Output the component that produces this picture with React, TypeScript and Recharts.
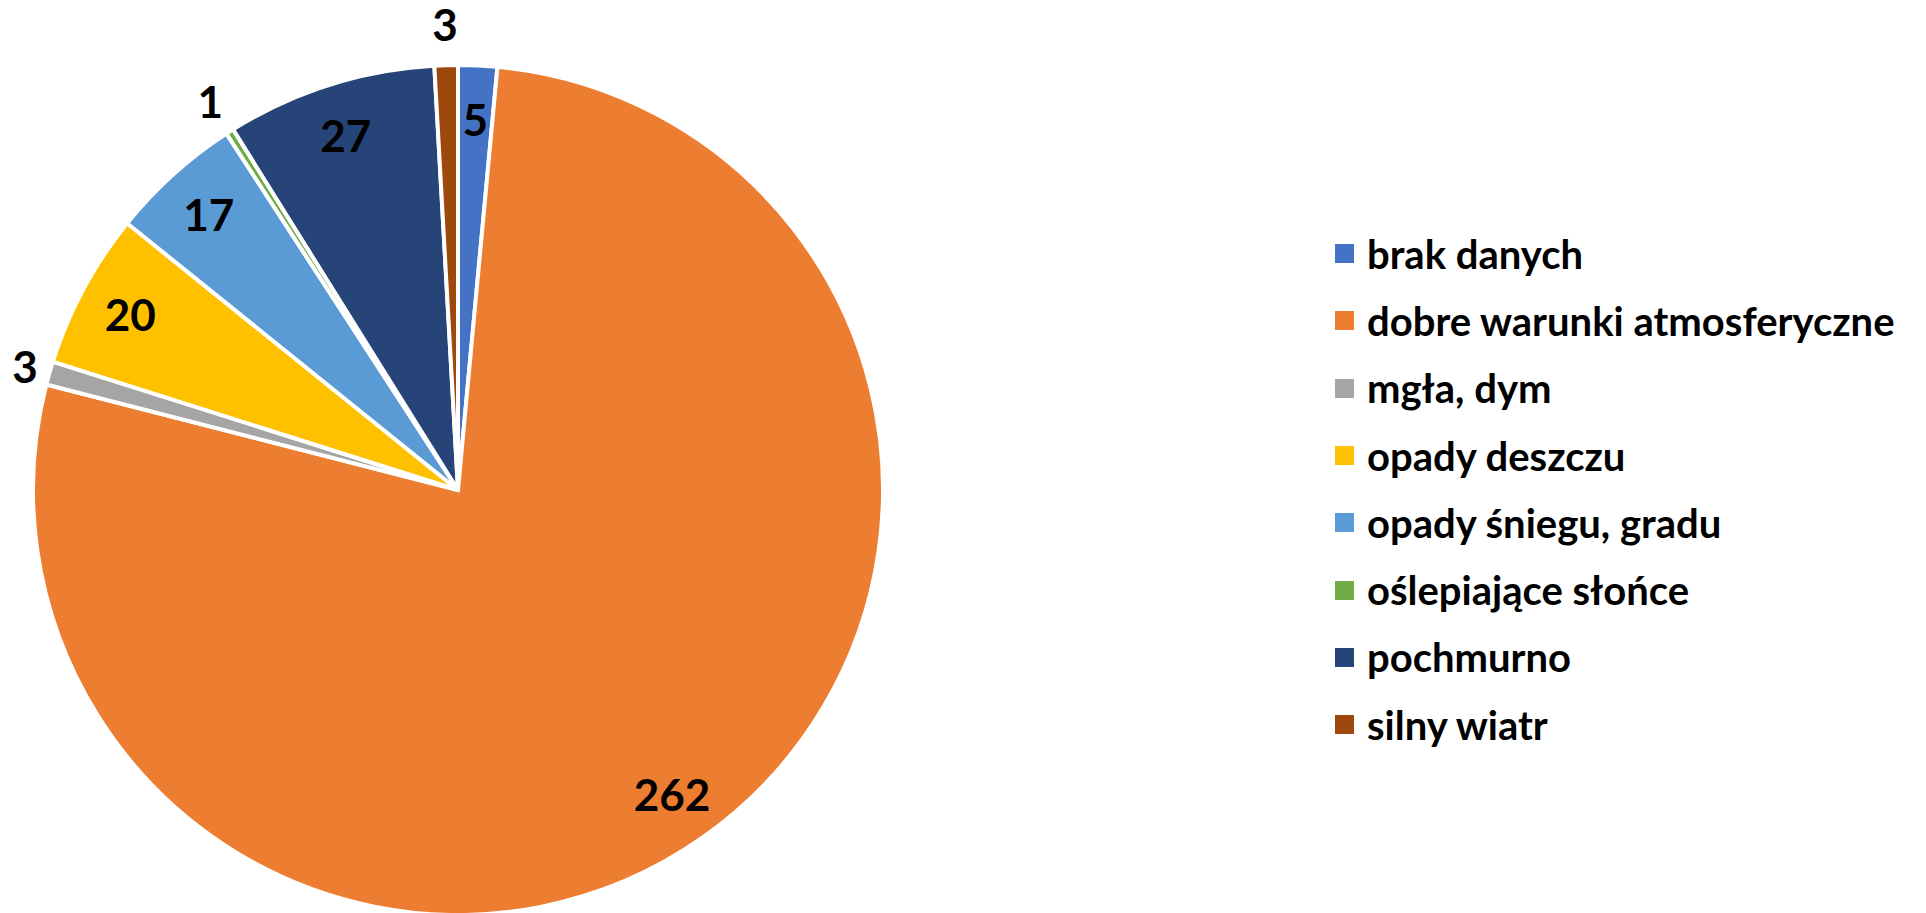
import { PieChart, Pie, Cell, Legend } from 'recharts';

const categories = [
  'brak danych',
  'dobre warunki atmosferyczne',
  'mgła, dym',
  'opady deszczu',
  'opady śniegu, gradu',
  'oślepiające słońce',
  'pochmurno',
  'silny wiatr',
];

const counts = [5, 262, 3, 20, 17, 1, 27, 3];

const COLORS = [
  '#4472C4',
  '#ED7D31',
  '#A5A5A5',
  '#FFC000',
  '#5B9BD5',
  '#70AD47',
  '#264478',
  '#9E480E',
];

const FONT = 'Lato, "Open Sans", sans-serif';
const RADIAN = Math.PI / 180;

const data = categories.map((name, i) => ({ name, value: counts[i] }));

function renderLabel(props: any) {
  const { cx, cy, midAngle, outerRadius, value } = props;
  const cos = Math.cos(-midAngle * RADIAN);
  const sin = Math.sin(-midAngle * RADIAN);
  // tiny slices get their number outside the pie, a bit closer when the label sits to the side
  const r = value < 4 ? outerRadius + 41 - 17 * cos * cos : outerRadius * 0.875;
  return (
    <text
      x={cx + r * cos}
      y={cy + r * sin}
      fill="#000"
      textAnchor="middle"
      dominantBaseline="central"
      fontFamily={FONT}
      fontWeight={700}
      fontSize={44}
    >
      {value}
    </text>
  );
}

function LegendList({ payload }: any) {
  return (
    <ul style={{ listStyle: 'none', margin: 0, padding: 0 }}>
      {(payload ?? []).map((p: any) => (
        <li
          key={p.value}
          style={{
            display: 'flex',
            alignItems: 'center',
            height: 67.3,
            fontFamily: FONT,
            fontWeight: 700,
            fontSize: 40,
            color: '#000',
            whiteSpace: 'nowrap',
          }}
        >
          <span
            style={{
              display: 'inline-block',
              width: 19,
              height: 19,
              background: p.color,
              marginRight: 13,
              flex: 'none',
            }}
          />
          {p.value}
        </li>
      ))}
    </ul>
  );
}

export default function App() {
  return (
    <PieChart width={1910} height={905}>
      <Pie
        data={data}
        dataKey="value"
        nameKey="name"
        cx={445}
        cy={477}
        outerRadius={425}
        startAngle={90}
        endAngle={-270}
        stroke="#fff"
        strokeWidth={4}
        label={renderLabel}
        labelLine={false}
        isAnimationActive={false}
      >
        {data.map((_, i) => (
          <Cell key={i} fill={COLORS[i % COLORS.length]} />
        ))}
      </Pie>
      <Legend
        layout="vertical"
        verticalAlign="top"
        align="right"
        content={<LegendList />}
        wrapperStyle={{ left: 1327, top: 212, width: 580 }}
      />
    </PieChart>
  );
}
